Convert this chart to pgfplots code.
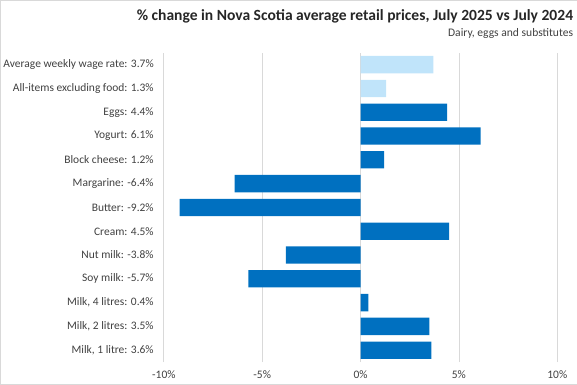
\documentclass[border=0pt]{standalone}
\usepackage{fontspec}
\setmainfont{Carlito}
\usepackage{pgfplots}
\pgfplotsset{compat=1.18}
\definecolor{darkbar}{HTML}{0070C0}
\definecolor{lightbar}{HTML}{C0E4FA}
\definecolor{gridc}{HTML}{D9D9D9}
\definecolor{txt}{HTML}{404040}
\begin{document}
\begin{tikzpicture}
\draw[gridc] (0.5bp,0.5bp) rectangle (576.5bp,384.5bp);
\node[anchor=base east, font=\fontsize{15.6}{18}\selectfont\bfseries, text=black!85, inner sep=0pt] at (573bp,364bp) {\% change in Nova Scotia average retail prices, July 2025 vs July 2024};
\node[anchor=base east, font=\fontsize{11.6}{13}\selectfont, text=txt, inner sep=0pt] at (573bp,348bp) {Dairy, eggs and substitutes};
\begin{axis}[
  at={(164bp,23bp)}, anchor=south west,
  scale only axis, width=393bp, height=309bp,
  xbar, bar shift=0pt, bar width=17.3bp,
  xmin=-10, xmax=10, ymin=-0.5, ymax=12.5,
  xtick={-10,-5,0,5,10},
  xticklabels={-10\%,-5\%,0\%,5\%,10\%},
  ytick={0,...,12},
  yticklabels={{Milk, 1 litre: 3.6\%},{Milk, 2 litres: 3.5\%},{Milk, 4 litres: 0.4\%},{Soy milk: -5.7\%},{Nut milk: -3.8\%},{Cream: 4.5\%},{Butter: -9.2\%},{Margarine: -6.4\%},{Block cheese: 1.2\%},{Yogurt: 6.1\%},{Eggs: 4.4\%},{All-items excluding food: 1.3\%},{Average weekly wage rate: 3.7\%}},
  axis line style={draw=none},
  major tick length=0pt,
  xmajorgrids, grid style={gridc, line width=0.75pt},
  tick label style={font=\fontsize{11.5}{13}\selectfont, text=txt},
  yticklabel style={anchor=east, inner sep=0pt, xshift=-10bp},
  xticklabel style={anchor=north, inner sep=0pt, yshift=-8bp},
]
\addplot[fill=lightbar, draw=none] coordinates {(3.7,12) (1.3,11)};
\addplot[fill=darkbar, draw=none] coordinates {(4.4,10) (6.1,9) (1.2,8) (-6.4,7) (-9.2,6) (4.5,5) (-3.8,4) (-5.7,3) (0.4,2) (3.5,1) (3.6,0)};
\end{axis}
\end{tikzpicture}
\end{document}
